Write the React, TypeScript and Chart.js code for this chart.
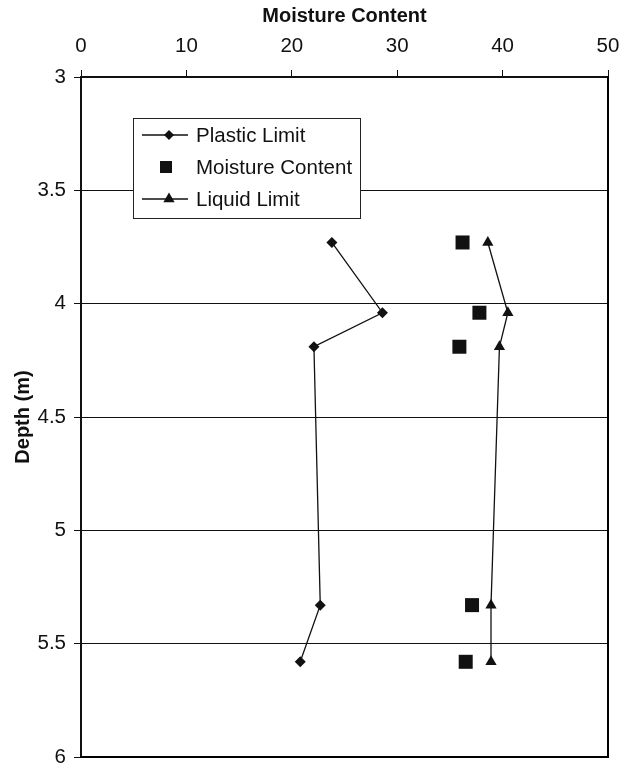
import React, { useEffect, useRef } from "react";
import { Chart, registerables } from "chart.js";

Chart.register(...registerables);

const depths = [3.73, 4.04, 4.19, 5.33, 5.58];
const plasticLimit = [23.8, 28.6, 22.1, 22.7, 20.8];
const moistureContent = [36.2, 37.8, 35.9, 37.1, 36.5];
const liquidLimit = [38.6, 40.5, 39.7, 38.9, 38.9];
const seriesNames = ["Plastic Limit", "Moisture Content", "Liquid Limit"];
const xTitle = "Moisture Content";
const yTitle = "Depth (m)";

const FONT = "'Liberation Sans', Arial, sans-serif";

const toPoints = (xs: number[]) => xs.map((x, i) => ({ x, y: depths[i] }));

const framePlugin = {
  id: "frame",
  afterDatasetsDraw(chart: any) {
    const { ctx, chartArea } = chart;
    const { left, top, right, bottom } = chartArea;
    ctx.save();
    ctx.strokeStyle = "#000";
    ctx.lineWidth = 2;
    ctx.beginPath();
    ctx.moveTo(right, top - 1);
    ctx.lineTo(right, bottom);
    ctx.lineTo(left - 1, bottom);
    ctx.stroke();
    ctx.restore();
  },
  afterDraw(chart: any) {
    const { ctx, chartArea } = chart;
    const bx = chartArea.left + 52;
    const by = chartArea.top + 41;
    const bw = 227;
    const bh = 100;
    ctx.save();
    ctx.fillStyle = "#fff";
    ctx.fillRect(bx, by, bw, bh);
    ctx.strokeStyle = "#222";
    ctx.lineWidth = 1;
    ctx.strokeRect(bx + 0.5, by + 0.5, bw, bh);
    const rows = [by + 17, by + 49, by + 81];
    const lx0 = bx + 9;
    const lx1 = bx + 55;
    const mx = bx + 36;
    ctx.fillStyle = "#111";
    ctx.strokeStyle = "#111";
    ctx.lineWidth = 1.3;
    rows.forEach((ry, i) => {
      if (i !== 1) {
        ctx.beginPath();
        ctx.moveTo(lx0, ry);
        ctx.lineTo(lx1, ry);
        ctx.stroke();
      }
      ctx.beginPath();
      if (i === 0) {
        const r = 5;
        ctx.moveTo(mx, ry - r);
        ctx.lineTo(mx + r, ry);
        ctx.lineTo(mx, ry + r);
        ctx.lineTo(mx - r, ry);
        ctx.closePath();
      } else if (i === 1) {
        ctx.rect(mx - 9, ry - 6, 12, 12);
      } else {
        const r = 6.5;
        ctx.moveTo(mx, ry - r);
        ctx.lineTo(mx + r * 0.866, ry + r / 2);
        ctx.lineTo(mx - r * 0.866, ry + r / 2);
        ctx.closePath();
      }
      ctx.fill();
      ctx.fillStyle = "#111";
      ctx.font = `20.5px ${FONT}`;
      ctx.textAlign = "left";
      ctx.textBaseline = "middle";
      ctx.fillText(seriesNames[i], bx + 63, ry + 1);
    });
    ctx.restore();
  },
};

export default function App() {
  const ref = useRef<HTMLCanvasElement | null>(null);
  useEffect(() => {
    if (!ref.current) return;
    const chart = new Chart(ref.current, {
      type: "scatter",
      data: {
        datasets: [
          {
            label: seriesNames[0],
            data: toPoints(plasticLimit),
            showLine: true,
            borderColor: "#111",
            borderWidth: 1.3,
            backgroundColor: "#111",
            pointStyle: "rectRot",
            pointRadius: 5.5,
            pointBorderWidth: 0,
          },
          {
            label: seriesNames[1],
            data: toPoints(moistureContent),
            showLine: false,
            borderColor: "#111",
            backgroundColor: "#111",
            pointStyle: "rect",
            pointRadius: 9.9,
            pointBorderWidth: 0,
          },
          {
            label: seriesNames[2],
            data: toPoints(liquidLimit),
            showLine: true,
            borderColor: "#111",
            borderWidth: 1.3,
            backgroundColor: "#111",
            pointStyle: "triangle",
            pointRadius: 6.5,
            pointBorderWidth: 0,
          },
        ],
      },
      options: {
        animation: false,
        responsive: false,
        layout: { padding: { left: 0, top: 0, right: 16, bottom: 10 } },
        plugins: { legend: { display: false }, tooltip: { enabled: false } },
        scales: {
          x: {
            type: "linear",
            position: "top",
            min: 0,
            max: 50,
            ticks: {
              stepSize: 10,
              color: "#111",
              padding: 11,
              font: { family: FONT, size: 20.5 },
            },
            grid: {
              drawOnChartArea: false,
              drawTicks: true,
              tickLength: 7,
              color: "#111",
              lineWidth: 1,
            },
            border: { display: true, color: "#111", width: 2 },
            title: {
              display: true,
              text: xTitle,
              color: "#111",
              padding: { top: 4, bottom: 0 },
              font: { family: FONT, size: 20, weight: "bold" },
            },
            afterFit: (s: any) => {
              s.height = 77;
              s.paddingLeft = 0;
              s.paddingRight = 0;
            },
          },
          y: {
            type: "linear",
            reverse: true,
            min: 3,
            max: 6,
            ticks: {
              stepSize: 0.5,
              color: "#111",
              padding: 8,
              font: { family: FONT, size: 20.5 },
              callback: (v: any) => String(Number(v)),
            },
            grid: {
              drawOnChartArea: true,
              drawTicks: true,
              tickLength: 7,
              color: "#111",
              lineWidth: 1,
            },
            border: { display: true, color: "#111", width: 2 },
            title: {
              display: true,
              text: yTitle,
              color: "#111",
              padding: { top: 11, bottom: 0 },
              font: { family: FONT, size: 20, weight: "bold" },
            },
            afterFit: (s: any) => {
              s.width = 81;
              s.paddingTop = 0;
              s.paddingBottom = 0;
            },
          },
        },
      },
      plugins: [framePlugin],
    } as any);
    return () => chart.destroy();
  }, []);
  return (
    <div style={{ position: "absolute", left: 0, top: 0, width: 624, height: 767, background: "#fff" }}>
      <canvas ref={ref} width={624} height={767} />
    </div>
  );
}
